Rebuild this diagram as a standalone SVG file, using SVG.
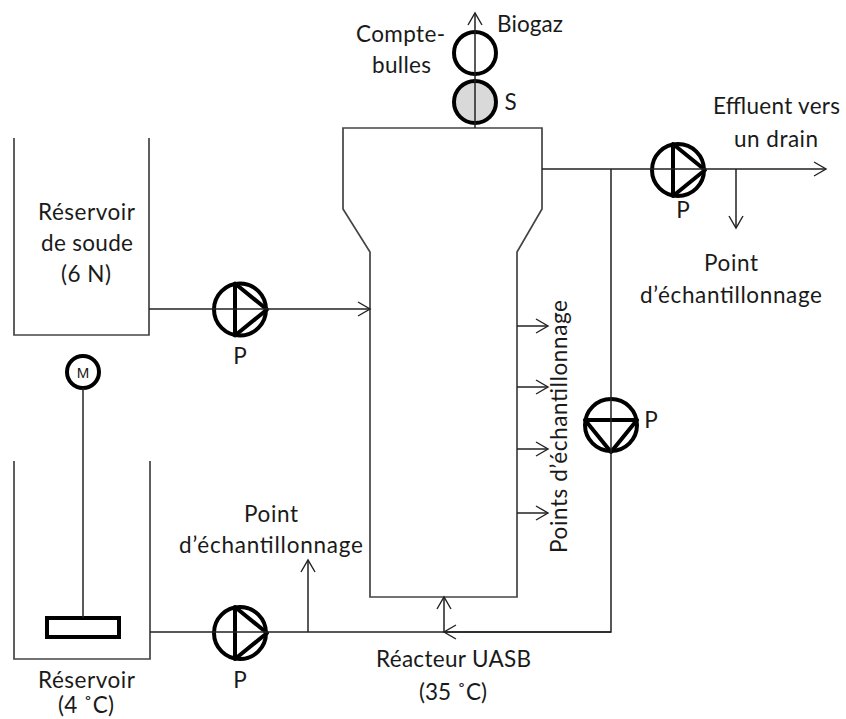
<svg xmlns="http://www.w3.org/2000/svg" width="846" height="719" viewBox="0 0 846 719">
<style>
text{font-family:"Lato","Open Sans","Liberation Sans",sans-serif;font-size:22.5px;fill:#1a1a1a;text-anchor:middle}
.l{fill:none;stroke:#222;stroke-width:1.5}
.v{fill:none;stroke:#444;stroke-width:1.7}
.b{fill:#fff;stroke:#000;stroke-width:4}
.t{fill:none;stroke:#000;stroke-width:4;stroke-linejoin:round}
.a{fill:none;stroke:#222;stroke-width:1.4}
</style>
<defs>
<marker id="h" markerUnits="userSpaceOnUse" markerWidth="16" markerHeight="16" refX="13" refY="8" orient="auto"><path d="M1 1L13 8L1 15" class="a"/></marker>
<g id="pump"><circle r="26" class="b"/><path d="M-5 -26V26L27 0Z" class="t"/></g>
</defs>
<g id="reservoir-soude"><path class="v" d="M14 138V335H149V138"/><text x="86.500" y="220" textLength="97">Réservoir</text><text x="87" y="251" textLength="92">de soude</text><text x="86" y="282" textLength="50">(6 N)</text></g>
<g id="reservoir"><path class="v" d="M14 461V659H150V461"/><text x="86.500" y="688" textLength="97">Réservoir</text><text x="86" y="713" textLength="56">(4 ˚C)</text></g>
<g id="moteur"><circle cx="83" cy="372" r="16" fill="#fff" stroke="#000" stroke-width="4"/><text x="83" y="377.500" style="font-family:'Liberation Sans',sans-serif;font-size:15px">M</text></g>
<g id="agitateur"><rect x="47" y="618" width="72" height="19" fill="#fff" stroke="#000" stroke-width="4"/></g>
<g id="pompe-soude"><use href="#pump" x="240" y="309.500"/><text x="240" y="364">P</text></g>
<g id="pompe-alimentation"><use href="#pump" x="240" y="633"/><text x="240" y="688">P</text></g>
<g id="pompe-effluent"><use href="#pump" x="678" y="170"/><text x="683" y="218">P</text></g>
<g id="pompe-recirculation"><use href="#pump" transform="translate(611 425) rotate(90)"/><text x="651" y="428">P</text></g>
<g id="reacteur"><path class="v" d="M343 128H542V209L517 252V597H370V252L343 209Z" fill="#fff"/><text x="453.500" y="667" textLength="155">Réacteur UASB</text><text x="453" y="700" textLength="68">(35 ˚C)</text></g>
<g id="compte-bulles"><circle cx="475" cy="53" r="21" fill="none" stroke="#000" stroke-width="4"/><text x="400.500" y="42" textLength="89">Compte-</text><text x="401.500" y="73" textLength="59">bulles</text></g>
<g id="s"><circle cx="475" cy="102" r="21" fill="#d9d9d9" stroke="#000" stroke-width="4"/><text x="510.500" y="110">S</text></g>
<g id="connectors">
<path class="l" d="M149 309H370" marker-end="url(#h)"/>
<path class="l" d="M150 632H611V169M542 169H826" marker-end="url(#h)"/>
<path class="l" d="M611 632H444" marker-end="url(#h)"/>
<path class="l" d="M444 632V597" marker-end="url(#h)"/>
<path class="l" d="M308 632V560" marker-end="url(#h)"/>
<path class="l" d="M736 169V228" marker-end="url(#h)"/>
<path class="l" d="M517 326H548" marker-end="url(#h)"/>
<path class="l" d="M517 387H548" marker-end="url(#h)"/>
<path class="l" d="M517 449H548" marker-end="url(#h)"/>
<path class="l" d="M517 513H548" marker-end="url(#h)"/>
<path class="l" d="M475 128V13" marker-end="url(#h)"/>
<path class="l" d="M83 388V618"/>
</g>
<text x="530" y="32" textLength="66">Biogaz</text>
<text x="776.500" y="114" textLength="127">Effluent vers</text><text x="776" y="147" textLength="84">un drain</text>
<text x="731" y="271" textLength="54">Point</text><text x="731" y="303" textLength="182">d’échantillonnage</text>
<text x="271" y="522" textLength="54">Point</text><text x="271" y="553" textLength="184">d’échantillonnage</text>
<text transform="translate(567 426.500) rotate(-90)" textLength="253">Points d’échantillonnage</text>
</svg>
